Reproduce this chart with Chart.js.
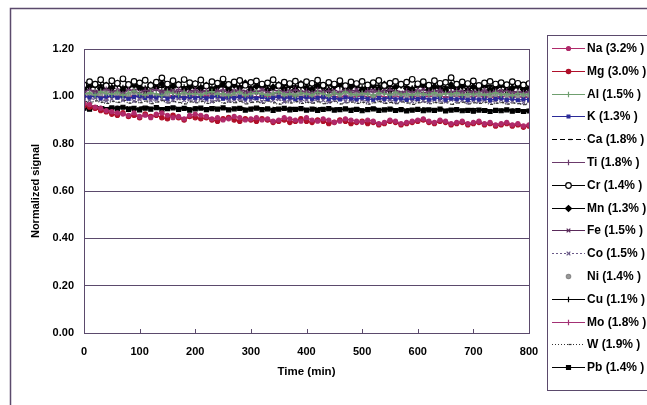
<!DOCTYPE html>
<html>
<head>
<meta charset="utf-8">
<script src="https://cdn.jsdelivr.net/npm/chart.js@4/dist/chart.umd.min.js"></script>
<style>
  html, body { margin: 0; padding: 0; background: #fff; }
  canvas { display: block; }
</style>
</head>
<body>
<canvas id="signal-chart" width="647" height="405"></canvas>
<script>
// normalized signal vs time, 15 elements

const times = [0, 10, 20, 30, 40, 50, 60, 70, 80, 90, 100,
  110, 120, 130, 140, 150, 160, 170, 180, 190, 200,
  210, 220, 230, 240, 250, 260, 270, 280, 290, 300,
  310, 320, 330, 340, 350, 360, 370, 380, 390, 400,
  410, 420, 430, 440, 450, 460, 470, 480, 490, 500,
  510, 520, 530, 540, 550, 560, 570, 580, 590, 600,
  610, 620, 630, 640, 650, 660, 670, 680, 690, 700,
  710, 720, 730, 740, 750, 760, 770, 780, 790, 800];

const elementLabels = ["Na (3.2% )", "Mg (3.0% )", "Al (1.5% )", "K (1.3% )", "Ca (1.8% )",
  "Ti (1.8% )", "Cr (1.4% )", "Mn (1.3% )", "Fe (1.5% )", "Co (1.5% )",
  "Ni (1.4% )", "Cu (1.1% )", "Mo (1.8% )", "W (1.9% )", "Pb (1.4% )"];

const yTicks = [0.00, 0.20, 0.40, 0.60, 0.80, 1.00, 1.20];
const xTicks = [0, 100, 200, 300, 400, 500, 600, 700, 800];

const na = [0.970, 0.965, 0.955, 0.950, 0.940, 0.935, 0.930, 0.925, 0.920, 0.930, 0.915,
  0.920, 0.910, 0.925, 0.930, 0.920, 0.910, 0.915, 0.905, 0.920, 0.925,
  0.920, 0.915, 0.905, 0.910, 0.900, 0.905, 0.915, 0.910, 0.900, 0.905,
  0.910, 0.900, 0.905, 0.895, 0.900, 0.910, 0.905, 0.900, 0.895, 0.910,
  0.900, 0.895, 0.905, 0.900, 0.890, 0.895, 0.905, 0.900, 0.895, 0.890,
  0.900, 0.895, 0.885, 0.890, 0.900, 0.895, 0.885, 0.890, 0.895, 0.900,
  0.905, 0.895, 0.890, 0.900, 0.895, 0.885, 0.890, 0.895, 0.885, 0.890,
  0.895, 0.885, 0.890, 0.880, 0.885, 0.890, 0.880, 0.885, 0.875, 0.880];

const mg = [0.960, 0.955, 0.950, 0.940, 0.935, 0.925, 0.920, 0.930, 0.915, 0.920, 0.910,
  0.925, 0.915, 0.920, 0.910, 0.905, 0.920, 0.910, 0.900, 0.915, 0.910,
  0.905, 0.910, 0.900, 0.895, 0.905, 0.910, 0.900, 0.895, 0.905, 0.900,
  0.895, 0.905, 0.900, 0.890, 0.895, 0.900, 0.890, 0.895, 0.905, 0.895,
  0.890, 0.900, 0.895, 0.885, 0.890, 0.900, 0.895, 0.885, 0.890, 0.895,
  0.885, 0.890, 0.880, 0.885, 0.895, 0.890, 0.880, 0.885, 0.890, 0.895,
  0.900, 0.890, 0.885, 0.895, 0.890, 0.880, 0.885, 0.890, 0.880, 0.885,
  0.890, 0.880, 0.885, 0.875, 0.880, 0.885, 0.875, 0.880, 0.870, 0.875];

const al = [1.010, 1.015, 1.005, 1.020, 1.012, 1.008, 1.018, 1.004, 1.014, 1.022, 1.010,
  1.006, 1.016, 1.011, 1.003, 1.019, 1.013, 1.007, 1.017, 1.009, 1.012,
  1.005, 1.015, 1.020, 1.008, 1.012, 1.003, 1.014, 1.018, 1.006, 1.011,
  1.016, 1.009, 1.004, 1.013, 1.019, 1.007, 1.012, 1.002, 1.015, 1.010,
  1.006, 1.017, 1.011, 1.004, 1.014, 1.008, 1.019, 1.010, 1.005, 1.013,
  1.009, 1.003, 1.015, 1.011, 1.006, 1.018, 1.008, 1.012, 1.004, 1.014,
  1.010, 1.007, 1.016, 1.002, 1.012, 1.009, 1.015, 1.005, 1.011, 1.008,
  1.013, 1.004, 1.010, 1.016, 1.006, 1.011, 1.003, 1.012, 1.007, 1.009];

const k = [1.000, 0.996, 1.003, 0.992, 0.998, 1.002, 0.994, 0.999, 0.990, 0.997, 1.001,
  0.993, 0.998, 0.995, 1.002, 0.991, 0.996, 0.999, 0.993, 0.997, 0.994,
  0.998, 0.992, 0.996, 1.000, 0.990, 0.995, 0.993, 0.998, 0.991, 0.996,
  0.992, 0.997, 0.989, 0.994, 0.998, 0.991, 0.995, 0.988, 0.993, 0.996,
  0.990, 0.994, 0.997, 0.989, 0.993, 0.987, 0.995, 0.991, 0.988, 0.994,
  0.990, 0.986, 0.993, 0.989, 0.995, 0.988, 0.991, 0.985, 0.992, 0.989,
  0.993, 0.987, 0.990, 0.994, 0.986, 0.991, 0.988, 0.992, 0.985, 0.990,
  0.987, 0.991, 0.984, 0.989, 0.992, 0.986, 0.990, 0.983, 0.988, 0.986];

const ca = [0.955, 0.958, 0.952, 0.956, 0.950, 0.954, 0.957, 0.951, 0.955, 0.949, 0.953,
  0.956, 0.950, 0.954, 0.948, 0.952, 0.955, 0.949, 0.953, 0.950, 0.954,
  0.947, 0.951, 0.955, 0.949, 0.952, 0.946, 0.950, 0.953, 0.948, 0.951,
  0.954, 0.947, 0.950, 0.952, 0.946, 0.949, 0.953, 0.947, 0.950, 0.945,
  0.949, 0.952, 0.946, 0.948, 0.951, 0.945, 0.949, 0.947, 0.950, 0.944,
  0.948, 0.951, 0.945, 0.947, 0.950, 0.944, 0.948, 0.946, 0.943, 0.947,
  0.950, 0.944, 0.946, 0.949, 0.943, 0.947, 0.945, 0.942, 0.946, 0.948,
  0.943, 0.945, 0.941, 0.946, 0.944, 0.940, 0.945, 0.942, 0.939, 0.943];

const ti = [1.020, 1.026, 1.015, 1.022, 1.030, 1.018, 1.024, 1.012, 1.027, 1.021, 1.016,
  1.025, 1.019, 1.028, 1.014, 1.023, 1.017, 1.029, 1.021, 1.013, 1.026,
  1.018, 1.024, 1.011, 1.022, 1.027, 1.016, 1.020, 1.025, 1.013, 1.021,
  1.017, 1.026, 1.019, 1.012, 1.024, 1.020, 1.015, 1.027, 1.018, 1.022,
  1.014, 1.025, 1.019, 1.023, 1.011, 1.020, 1.026, 1.016, 1.021, 1.013,
  1.024, 1.018, 1.022, 1.015, 1.027, 1.019, 1.012, 1.023, 1.017, 1.025,
  1.014, 1.021, 1.018, 1.026, 1.013, 1.020, 1.024, 1.016, 1.022, 1.011,
  1.019, 1.025, 1.015, 1.021, 1.017, 1.023, 1.012, 1.020, 1.016, 1.018];

const cr = [1.048, 1.062, 1.051, 1.070, 1.045, 1.066, 1.055, 1.074, 1.050, 1.063, 1.057,
  1.068, 1.046, 1.060, 1.078, 1.052, 1.066, 1.049, 1.071, 1.058, 1.053,
  1.069, 1.044, 1.062, 1.056, 1.073, 1.050, 1.061, 1.067, 1.047, 1.059,
  1.065, 1.052, 1.057, 1.070, 1.046, 1.060, 1.054, 1.064, 1.049, 1.062,
  1.055, 1.068, 1.047, 1.059, 1.052, 1.066, 1.045, 1.061, 1.054, 1.063,
  1.048, 1.058, 1.067, 1.046, 1.056, 1.063, 1.051, 1.060, 1.072, 1.053,
  1.062, 1.047, 1.066, 1.055, 1.059, 1.079, 1.051, 1.061, 1.054, 1.065,
  1.046, 1.057, 1.063, 1.052, 1.058, 1.049, 1.062, 1.055, 1.048, 1.054];

const mn = [1.030, 1.042, 1.050, 1.032, 1.046, 1.035, 1.055, 1.028, 1.043, 1.051, 1.036,
  1.027, 1.048, 1.037, 1.054, 1.031, 1.044, 1.050, 1.029, 1.040, 1.053,
  1.034, 1.046, 1.026, 1.041, 1.052, 1.030, 1.047, 1.036, 1.056, 1.029,
  1.043, 1.050, 1.027, 1.039, 1.049, 1.031, 1.045, 1.028, 1.053, 1.035,
  1.029, 1.047, 1.038, 1.025, 1.044, 1.052, 1.030, 1.041, 1.049, 1.027,
  1.036, 1.046, 1.031, 1.051, 1.026, 1.039, 1.048, 1.034, 1.028, 1.045,
  1.052, 1.029, 1.041, 1.036, 1.027, 1.049, 1.032, 1.044, 1.025, 1.040,
  1.030, 1.046, 1.028, 1.037, 1.050, 1.026, 1.035, 1.043, 1.029, 1.034];

const fe = [1.022, 1.030, 1.018, 1.027, 1.033, 1.021, 1.026, 1.015, 1.029, 1.024, 1.031,
  1.019, 1.025, 1.034, 1.020, 1.028, 1.023, 1.016, 1.030, 1.026, 1.021,
  1.032, 1.018, 1.024, 1.029, 1.017, 1.027, 1.022, 1.031, 1.020, 1.025,
  1.016, 1.028, 1.023, 1.030, 1.019, 1.026, 1.021, 1.033, 1.018, 1.024,
  1.029, 1.017, 1.025, 1.022, 1.030, 1.015, 1.027, 1.021, 1.028, 1.019,
  1.024, 1.031, 1.018, 1.026, 1.020, 1.029, 1.016, 1.023, 1.027, 1.021,
  1.030, 1.017, 1.025, 1.022, 1.028, 1.014, 1.024, 1.020, 1.029, 1.018,
  1.026, 1.021, 1.016, 1.027, 1.023, 1.019, 1.025, 1.015, 1.022, 1.020];

const co = [0.990, 0.984, 0.993, 0.986, 0.981, 0.989, 0.995, 0.983, 0.988, 0.980, 0.987,
  0.992, 0.982, 0.986, 0.990, 0.979, 0.985, 0.991, 0.983, 0.987, 0.981,
  0.989, 0.984, 0.978, 0.986, 0.992, 0.982, 0.985, 0.988, 0.980, 0.984,
  0.990, 0.979, 0.986, 0.983, 0.988, 0.977, 0.984, 0.989, 0.981, 0.985,
  0.980, 0.987, 0.983, 0.976, 0.985, 0.989, 0.979, 0.984, 0.981, 0.986,
  0.978, 0.983, 0.988, 0.980, 0.985, 0.977, 0.982, 0.987, 0.979, 0.984,
  0.981, 0.976, 0.985, 0.982, 0.978, 0.986, 0.980, 0.983, 0.975, 0.982,
  0.979, 0.984, 0.977, 0.981, 0.985, 0.976, 0.980, 0.983, 0.974, 0.979];

const ni = [1.012, 1.005, 1.018, 1.009, 1.015, 1.002, 1.011, 1.020, 1.007, 1.013, 1.004,
  1.016, 1.010, 1.001, 1.014, 1.008, 1.019, 1.006, 1.012, 1.003, 1.015,
  1.009, 1.017, 1.004, 1.011, 1.007, 1.016, 1.002, 1.013, 1.010, 1.005,
  1.018, 1.008, 1.012, 1.001, 1.014, 1.009, 1.006, 1.017, 1.003, 1.011,
  1.007, 1.015, 1.010, 1.002, 1.013, 1.008, 1.016, 1.004, 1.012, 1.006,
  1.014, 1.001, 1.010, 1.017, 1.005, 1.011, 1.008, 1.003, 1.015, 1.009,
  1.006, 1.013, 1.002, 1.011, 1.016, 1.004, 1.009, 1.012, 1.001, 1.010,
  1.007, 1.014, 1.003, 1.009, 1.012, 1.005, 1.010, 1.002, 1.008, 1.006];

const cu = [1.036, 1.043, 1.039, 1.048, 1.034, 1.041, 1.046, 1.037, 1.050, 1.040, 1.044,
  1.035, 1.047, 1.042, 1.038, 1.051, 1.036, 1.043, 1.039, 1.045, 1.033,
  1.042, 1.048, 1.037, 1.044, 1.040, 1.035, 1.046, 1.041, 1.049, 1.038,
  1.043, 1.036, 1.045, 1.040, 1.034, 1.047, 1.039, 1.044, 1.037, 1.042,
  1.048, 1.035, 1.041, 1.046, 1.038, 1.043, 1.033, 1.045, 1.040, 1.036,
  1.044, 1.039, 1.047, 1.034, 1.042, 1.037, 1.045, 1.041, 1.035, 1.046,
  1.038, 1.043, 1.036, 1.049, 1.040, 1.034, 1.044, 1.039, 1.042, 1.035,
  1.041, 1.037, 1.045, 1.033, 1.040, 1.043, 1.036, 1.039, 1.034, 1.038];

const mo = [1.002, 0.997, 1.006, 1.000, 0.995, 1.004, 0.999, 1.008, 0.996, 1.003, 0.998,
  1.005, 0.994, 1.001, 1.007, 0.997, 1.003, 0.999, 0.993, 1.004, 1.000,
  0.996, 1.006, 0.998, 1.002, 0.994, 1.001, 1.005, 0.997, 1.003, 0.999,
  0.995, 1.004, 1.000, 0.996, 1.002, 0.992, 1.001, 1.006, 0.998, 1.003,
  0.997, 1.001, 0.994, 1.004, 0.999, 0.996, 1.002, 0.993, 1.000, 1.005,
  0.998, 0.995, 1.003, 0.999, 0.992, 1.001, 0.997, 1.004, 0.996, 1.000,
  0.994, 1.002, 0.998, 1.005, 0.995, 0.999, 1.003, 0.993, 1.000, 0.997,
  1.002, 0.996, 0.999, 0.991, 0.998, 1.001, 0.995, 0.999, 0.994, 0.997];

const w = [0.978, 0.972, 0.981, 0.975, 0.970, 0.979, 0.974, 0.983, 0.971, 0.977, 0.973,
  0.980, 0.969, 0.976, 0.982, 0.972, 0.978, 0.974, 0.968, 0.977, 0.973,
  0.979, 0.970, 0.975, 0.981, 0.971, 0.976, 0.973, 0.979, 0.968, 0.974,
  0.977, 0.971, 0.980, 0.973, 0.967, 0.976, 0.972, 0.978, 0.970, 0.975,
  0.971, 0.977, 0.969, 0.974, 0.979, 0.968, 0.973, 0.976, 0.970, 0.975,
  0.967, 0.973, 0.978, 0.970, 0.974, 0.969, 0.977, 0.972, 0.966, 0.973,
  0.976, 0.969, 0.974, 0.971, 0.977, 0.966, 0.972, 0.975, 0.968, 0.973,
  0.970, 0.975, 0.966, 0.971, 0.974, 0.967, 0.972, 0.969, 0.965, 0.970];

const pb = [0.950, 0.946, 0.953, 0.948, 0.944, 0.951, 0.947, 0.954, 0.945, 0.949, 0.943,
  0.950, 0.946, 0.952, 0.944, 0.948, 0.951, 0.945, 0.949, 0.942, 0.947,
  0.950, 0.944, 0.948, 0.946, 0.951, 0.943, 0.947, 0.949, 0.942, 0.946,
  0.950, 0.944, 0.947, 0.941, 0.946, 0.949, 0.943, 0.945, 0.948, 0.942,
  0.946, 0.940, 0.945, 0.948, 0.942, 0.944, 0.947, 0.941, 0.945, 0.939,
  0.944, 0.947, 0.941, 0.943, 0.946, 0.940, 0.944, 0.938, 0.942, 0.945,
  0.939, 0.943, 0.941, 0.946, 0.938, 0.942, 0.944, 0.939, 0.941, 0.937,
  0.942, 0.940, 0.936, 0.941, 0.939, 0.943, 0.937, 0.940, 0.936, 0.938];

const seriesValues = [na, mg, al, k, ca, ti, cr, mn, fe, co, ni, cu, mo, w, pb];

// look of each series (colour, marker, dash)
const seriesStyles = [
  { color: "#b02a6a", marker: "circle", size: 2, fill: "#b02a6a", dash: [], width: 1.3 },
  { color: "#b0102a", marker: "circle", size: 2.2, fill: "#b0102a", dash: [], width: 1.3 },
  { color: "#6f9f6f", marker: "cross", size: 2.8, fill: "#6f9f6f", dash: [], width: 1.2 },
  { color: "#2b2b98", marker: "rect", size: 2, fill: "#2b2b98", dash: [], width: 1.4 },
  { color: "#000000", marker: "dash", size: 3.5, fill: "#000000", dash: [5, 3], width: 2 },
  { color: "#6b3a6b", marker: "cross", size: 2.8, fill: "#6b3a6b", dash: [], width: 1.2 },
  { color: "#000000", marker: "circle", size: 2.8, fill: "#ffffff", dash: [], width: 1.4 },
  { color: "#000000", marker: "rectRot", size: 3, fill: "#000000", dash: [], width: 1.4 },
  { color: "#5a2a5a", marker: "crossRot", size: 2.6, fill: "#5a2a5a", dash: [], width: 1.2 },
  { color: "#6a5a88", marker: "crossRot", size: 2.6, fill: "#6a5a88", dash: [2, 2], width: 1.2 },
  { color: "#8a8a8a", marker: "circle", size: 2.2, fill: "#9a9a9a", dash: [], width: 1, noLine: true },
  { color: "#000000", marker: "cross", size: 2.8, fill: "#000000", dash: [], width: 1.4 },
  { color: "#a33074", marker: "cross", size: 2.8, fill: "#a33074", dash: [], width: 1.2 },
  { color: "#333333", marker: "dash", size: 3, fill: "#333333", dash: [1, 2], width: 1.3 },
  { color: "#000000", marker: "rect", size: 2.8, fill: "#000000", dash: [], width: 1.6 }
];

const frameColor = "#5b4a6c";
const boldFont = "'Liberation Sans', Arial, sans-serif";

const datasets = seriesValues.map((vals, i) => {
  const s = seriesStyles[i];
  return {
    label: elementLabels[i],
    data: times.map((t, j) => ({ x: t, y: vals[j] })),
    borderColor: s.color,
    borderWidth: s.width,
    borderDash: s.dash,
    showLine: !s.noLine,
    pointStyle: s.marker,
    pointRadius: s.size,
    pointBorderWidth: 1.2,
    pointBorderColor: s.color,
    pointBackgroundColor: s.fill,
    tension: 0
  };
});

// outer frame, plot box and small inward ticks on the time axis
const framePlugin = {
  id: "frame",
  afterDraw(chart) {
    const { ctx, chartArea } = chart;
    const xs = chart.scales.x;
    ctx.save();
    ctx.strokeStyle = frameColor;
    ctx.lineWidth = 1.5;
    ctx.beginPath();
    ctx.moveTo(10.5, 420);
    ctx.lineTo(10.5, 8.5);
    ctx.lineTo(660, 8.5);
    ctx.stroke();

    ctx.lineWidth = 1;
    ctx.strokeRect(chartArea.left + 0.5, chartArea.top + 0.5,
      chartArea.right - chartArea.left, chartArea.bottom - chartArea.top);
    ctx.beginPath();
    xTicks.forEach(t => {
      const px = Math.round(xs.getPixelForValue(t)) + 0.5;
      ctx.moveTo(px, chartArea.bottom);
      ctx.lineTo(px, chartArea.bottom - 4);
    });
    ctx.stroke();
    ctx.restore();
  }
};

// Excel-like legend: line sample with marker, boxed
const legendPlugin = {
  id: "boxLegend",
  afterDraw(chart) {
    const ctx = chart.ctx;
    ctx.save();
    ctx.strokeStyle = frameColor;
    ctx.lineWidth = 1;
    ctx.strokeRect(547.5, 35.5, 130, 355);
    chart.data.datasets.forEach((ds, i) => {
      const y = Math.round(48 + i * 22.8) + 0.5;
      ctx.strokeStyle = ds.borderColor;
      ctx.lineWidth = 1.2;
      if (ds.showLine) {
        ctx.setLineDash(ds.borderDash);
        ctx.beginPath();
        ctx.moveTo(552, y);
        ctx.lineTo(585, y);
        ctx.stroke();
        ctx.setLineDash([]);
      }
      ctx.fillStyle = ds.pointBackgroundColor;
      Chart.helpers.drawPoint(ctx, {
        pointStyle: ds.pointStyle, radius: ds.pointRadius, rotation: 0, borderWidth: 1
      }, 568.5, y);
      ctx.fillStyle = "#000";
      ctx.font = "bold 12px " + boldFont;
      ctx.textBaseline = "middle";
      ctx.textAlign = "left";
      ctx.fillText(ds.label, 587, y);
    });
    ctx.restore();
  }
};

new Chart(document.getElementById("signal-chart"), {
  type: "line",
  data: { datasets },
  options: {
    responsive: false,
    animation: false,
    layout: { padding: { left: 29, right: 118, top: 49, bottom: 22 } },
    plugins: { legend: { display: false }, tooltip: { enabled: false } },
    scales: {
      x: {
        type: "linear",
        min: 0,
        max: 800,
        afterFit: s => { s.height = 50; },
        afterBuildTicks: s => { s.ticks = xTicks.map(v => ({ value: v })); },
        grid: { display: false, drawTicks: false },
        border: { display: false },
        ticks: {
          padding: 12,
          maxRotation: 0,
          color: "#000",
          font: { family: boldFont, size: 11, weight: "bold" },
          callback: v => String(v)
        },
        title: {
          display: true,
          text: "Time (min)",
          color: "#000",
          font: { family: boldFont, size: 11.5, weight: "bold" },
          padding: { top: 0, bottom: 4 }
        }
      },
      y: {
        min: 0,
        max: 1.2,
        afterFit: s => { s.width = 55; },
        afterBuildTicks: s => { s.ticks = yTicks.map(v => ({ value: v })); },
        grid: { color: frameColor, lineWidth: 1, drawTicks: false },
        border: { display: false },
        ticks: {
          padding: 10,
          color: "#000",
          font: { family: boldFont, size: 11, weight: "bold" },
          callback: v => v.toFixed(2)
        },
        title: {
          display: true,
          text: "Normalized signal",
          color: "#000",
          font: { family: boldFont, size: 11, weight: "bold" },
          padding: { top: 0, bottom: 0 }
        }
      }
    }
  },
  plugins: [framePlugin, legendPlugin]
});
</script>
</body>
</html>
